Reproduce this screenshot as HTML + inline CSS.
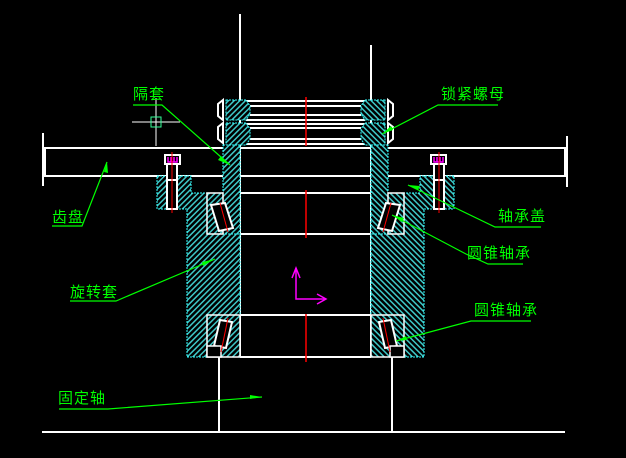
<!DOCTYPE html>
<html><head><meta charset="utf-8"><style>
html,body{margin:0;padding:0;background:#000;}
svg{display:block}
text{font-family:"Liberation Sans","Noto Sans CJK SC","WenQuanYi Zen Hei",sans-serif;font-size:15px;fill:#00ff00;letter-spacing:1px}
</style></head><body>
<svg width="626" height="458" viewBox="0 0 626 458" xmlns="http://www.w3.org/2000/svg">
<defs>
<pattern id="h" patternUnits="userSpaceOnUse" width="4" height="4" patternTransform="rotate(45)">
<rect width="4" height="4" fill="#000"/>
<rect width="1.5" height="4" fill="#3fc8c8"/>
</pattern>
<g id="half">
  <path d="M223,100 L218,104 L218,116 L223,120 Z M223,123 L218,127 L218,139 L223,143 Z" fill="none" stroke="#fff" stroke-width="2"/>
  <path d="M226,100 L246,100 L250,106 L250,114 L246,120 L226,120 Z M226,123 L246,123 L250,129 L250,139 L246,145 L226,145 Z" fill="url(#h)" stroke="#3ff" stroke-width="1" stroke-dasharray="2,1"/>
  <rect x="223" y="145" width="17" height="90" fill="url(#h)" stroke="#3ff" stroke-width="1" stroke-dasharray="2,1"/>
  <path d="M157,176 L191,176 L191,193 L207,193 L207,234 L240,234 L240,357 L187,357 L187,209 L157,209 Z" fill="url(#h)" stroke="#3ff" stroke-width="1" stroke-dasharray="2,1"/>
  <rect x="207" y="193" width="16" height="41" fill="url(#h)" stroke="#fff" stroke-width="1.5"/>
  <path d="M211,205 L225,203 L233,228 L219,231 Z" fill="#000" stroke="#fff" stroke-width="2"/>
  <line x1="220" y1="203" x2="228" y2="232" stroke="#f00" stroke-width="1"/>
  <rect x="207" y="315" width="33" height="42" fill="url(#h)" stroke="#fff" stroke-width="1.5"/>
  <path d="M220,320 L232,322 L226,348 L214,346 Z" fill="#000" stroke="#fff" stroke-width="2"/>
  <rect x="207" y="346" width="14" height="11" fill="#000" stroke="#fff" stroke-width="1.5"/>
  <line x1="228" y1="318" x2="221" y2="352" stroke="#f00" stroke-width="1"/>
  <rect x="167" y="164" width="10" height="45" fill="#000" stroke="#fff" stroke-width="2"/>
  <line x1="167" y1="180" x2="177" y2="180" stroke="#fff" stroke-width="2"/>
  <rect x="165" y="155" width="15" height="9" fill="#000" stroke="#fff" stroke-width="2"/>
  <path d="M168,157 L168,162 L177,162 L177,157 M171,157 L171,162 M174,157 L174,162" fill="none" stroke="#f0f" stroke-width="1.5"/>
  <line x1="172" y1="152" x2="172" y2="213" stroke="#f00" stroke-width="1"/>
  <line x1="219" y1="357" x2="219" y2="432" stroke="#fff" stroke-width="2"/>
</g>
</defs>
<rect width="626" height="458" fill="#000"/>
<line x1="240" y1="14" x2="240" y2="357" stroke="#fff" stroke-width="2"/>
<line x1="371" y1="45" x2="371" y2="357" stroke="#fff" stroke-width="2"/>
<g stroke="#fff" stroke-width="2">
<line x1="246" y1="101" x2="365" y2="101"/><line x1="250" y1="106" x2="361" y2="106"/>
<line x1="250" y1="115" x2="361" y2="115"/><line x1="246" y1="120" x2="365" y2="120"/>
<line x1="246" y1="124" x2="365" y2="124"/><line x1="250" y1="128" x2="361" y2="128"/>
<line x1="250" y1="139" x2="361" y2="139"/><line x1="246" y1="144" x2="365" y2="144"/>
<line x1="44" y1="148" x2="567" y2="148"/>
<line x1="44" y1="176" x2="567" y2="176"/>
<line x1="45" y1="148" x2="45" y2="176"/><line x1="565" y1="148" x2="565" y2="176"/>
<line x1="43" y1="133" x2="43" y2="186"/><line x1="567" y1="136" x2="567" y2="187"/>
<line x1="240" y1="193" x2="371" y2="193"/><line x1="240" y1="234" x2="371" y2="234"/>
<line x1="240" y1="315" x2="371" y2="315"/><line x1="240" y1="357" x2="371" y2="357"/>
<line x1="42" y1="432" x2="565" y2="432"/>
</g>
<use href="#half"/>
<use href="#half" transform="translate(611,0) scale(-1,1)"/>
<g stroke="#f00" stroke-width="1.5">
<line x1="306" y1="97" x2="306" y2="146"/><line x1="306" y1="190" x2="306" y2="238"/><line x1="306" y1="314" x2="306" y2="362"/>
</g>
<g stroke="#fff" stroke-width="1"><line x1="132" y1="122" x2="180" y2="122"/><line x1="156" y1="98" x2="156" y2="146"/></g>
<rect x="151" y="117" width="10" height="10" fill="none" stroke="#3f9" stroke-width="1"/>
<g stroke="#f0f" stroke-width="1.5" fill="none">
<path d="M296,268 L296,299 L326,299"/><path d="M292,278 L296,268 L300,278"/><path d="M317,294 L326,299 L317,304"/>
</g>
<g stroke="#00ff00" stroke-width="1.2" fill="none">
<path d="M133,105 L162,105 L230,165"/>
<path d="M498,105 L438,105 L382,134"/>
<path d="M52,226 L82,226 L107,162"/>
<path d="M541,227 L495,227 L408,185"/>
<path d="M523,264 L488,264 L466,254 L392,215"/>
<path d="M70,301 L116,301 L215,259"/>
<path d="M531,321 L471,321 L396,341"/>
<path d="M59,409 L108,409 L262,397"/>
</g>
<g fill="#00ff00">
<path d="M230,165 L218,160 L221,156 Z"/>
<path d="M382,134 L391,126 L393,130 Z"/>
<path d="M104,172 L107,162 L108,173 Z"/>
<path d="M408,185 L420,186 L418,190 Z"/>
<path d="M392,215 L404,218 L402,222 Z"/>
<path d="M215,259 L203,266 L202,262 Z"/>
<path d="M396,341 L406,336 L407,340 Z"/>
<path d="M262,397 L250,395 L250,399 Z"/>
</g>
<text x="133" y="99">隔套</text>
<text x="441" y="99">锁紧螺母</text>
<text x="52" y="222">齿盘</text>
<text x="498" y="221">轴承盖</text>
<text x="467" y="258">圆锥轴承</text>
<text x="70" y="297">旋转套</text>
<text x="474" y="315">圆锥轴承</text>
<text x="58" y="403">固定轴</text>
</svg>
</body></html>
